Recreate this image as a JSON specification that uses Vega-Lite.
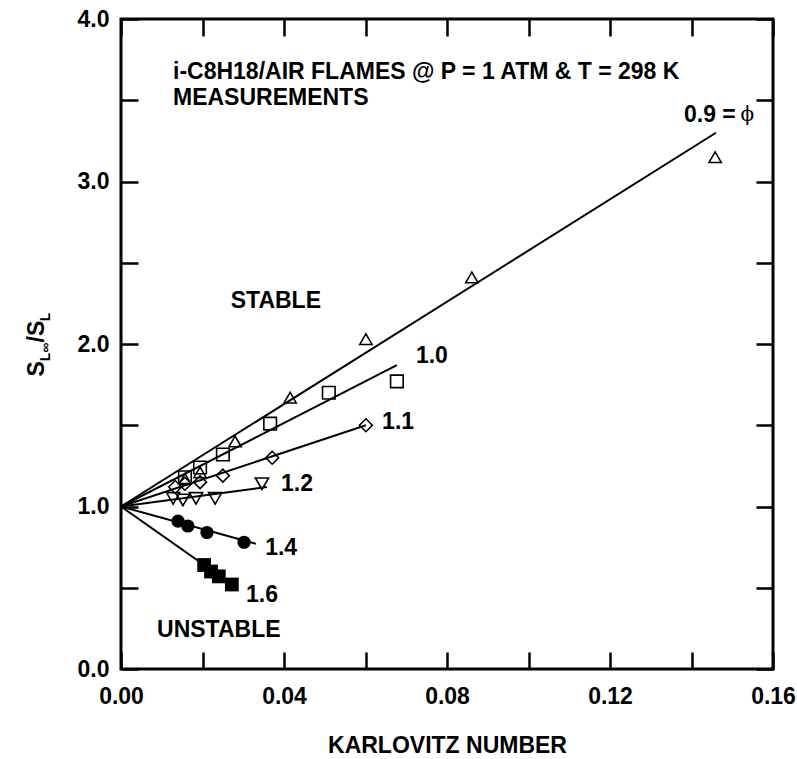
{
  "$schema": "https://vega.github.io/schema/vega-lite/v6.json",
  "width": 652,
  "height": 650,
  "autosize": "none",
  "padding": {"left": 121, "top": 19, "right": 24, "bottom": 90},
  "background": "white",
  "config": {
    "view": {"stroke": "black", "strokeWidth": 3},
    "font": "Liberation Sans",
    "axis": {
      "domain": false,
      "grid": false,
      "ticks": true,
      "tickColor": "black",
      "tickWidth": 2.5,
      "tickSize": -17,
      "labelFont": "Liberation Sans",
      "labelFontSize": 23,
      "labelFontWeight": "bold",
      "labelColor": "black",
      "labelFlush": false,
      "labelBound": false,
      "labelOverlap": false,
      "titleFont": "Liberation Sans",
      "titleFontSize": 23,
      "titleFontWeight": "bold",
      "titleColor": "black"
    }
  },
  "datasets": {
    "lines": [
      {"phi": "0.9", "k": 0, "s": 1.0}, {"phi": "0.9", "k": 0.146, "s": 3.30},
      {"phi": "1.0", "k": 0, "s": 1.0}, {"phi": "1.0", "k": 0.0677, "s": 1.87},
      {"phi": "1.1", "k": 0, "s": 1.0}, {"phi": "1.1", "k": 0.0601, "s": 1.50},
      {"phi": "1.2", "k": 0, "s": 1.0}, {"phi": "1.2", "k": 0.0358, "s": 1.12},
      {"phi": "1.4", "k": 0, "s": 1.0}, {"phi": "1.4", "k": 0.0331, "s": 0.77},
      {"phi": "1.6", "k": 0, "s": 1.0}, {"phi": "1.6", "k": 0.0272, "s": 0.52}
    ],
    "open": [
      {"phi": "0.9", "k": 0.0157, "s": 1.17},
      {"phi": "0.9", "k": 0.0194, "s": 1.21},
      {"phi": "0.9", "k": 0.0280, "s": 1.40},
      {"phi": "0.9", "k": 0.0415, "s": 1.67},
      {"phi": "0.9", "k": 0.0601, "s": 2.03},
      {"phi": "0.9", "k": 0.0861, "s": 2.41},
      {"phi": "0.9", "k": 0.1458, "s": 3.15},
      {"phi": "1.0", "k": 0.0157, "s": 1.18},
      {"phi": "1.0", "k": 0.0194, "s": 1.24},
      {"phi": "1.0", "k": 0.0250, "s": 1.32},
      {"phi": "1.0", "k": 0.0366, "s": 1.51},
      {"phi": "1.0", "k": 0.0510, "s": 1.70},
      {"phi": "1.0", "k": 0.0677, "s": 1.77},
      {"phi": "1.1", "k": 0.0133, "s": 1.12},
      {"phi": "1.1", "k": 0.0157, "s": 1.14},
      {"phi": "1.1", "k": 0.0194, "s": 1.15},
      {"phi": "1.1", "k": 0.0250, "s": 1.19},
      {"phi": "1.1", "k": 0.0371, "s": 1.30},
      {"phi": "1.1", "k": 0.0601, "s": 1.50},
      {"phi": "1.2", "k": 0.0128, "s": 1.05},
      {"phi": "1.2", "k": 0.0152, "s": 1.04},
      {"phi": "1.2", "k": 0.0184, "s": 1.05},
      {"phi": "1.2", "k": 0.0231, "s": 1.05},
      {"phi": "1.2", "k": 0.0346, "s": 1.14}
    ],
    "filled": [
      {"phi": "1.4", "k": 0.0140, "s": 0.91},
      {"phi": "1.4", "k": 0.0164, "s": 0.88},
      {"phi": "1.4", "k": 0.0211, "s": 0.84},
      {"phi": "1.4", "k": 0.0302, "s": 0.78},
      {"phi": "1.6", "k": 0.0204, "s": 0.64},
      {"phi": "1.6", "k": 0.0221, "s": 0.60},
      {"phi": "1.6", "k": 0.0240, "s": 0.57},
      {"phi": "1.6", "k": 0.0272, "s": 0.52}
    ],
    "labels": [
      {"t": "0.9 =", "k": 0.1445, "s": 3.41},
      {"t": "1.0", "k": 0.0763, "s": 1.926},
      {"t": "1.1", "k": 0.0680, "s": 1.52},
      {"t": "1.2", "k": 0.0432, "s": 1.138},
      {"t": "1.4", "k": 0.0393, "s": 0.745},
      {"t": "1.6", "k": 0.0346, "s": 0.455},
      {"t": "UNSTABLE", "k": 0.0240, "s": 0.240},
      {"t": "STABLE", "k": 0.0380, "s": 2.265}
    ],
    "notes": [
      {"t": "i-C8H18/AIR FLAMES @ P = 1 ATM & T = 298 K", "k": 0.01276, "s": 3.674},
      {"t": "MEASUREMENTS", "k": 0.01276, "s": 3.511}
    ],
    "phisym": [{"t": "ϕ", "k": 0.1537, "s": 3.41}],
    "ytitle": [{"k": -0.0189, "s": 1.994}]
  },
  "layer": [
    {
      "data": {"name": "lines"},
      "mark": {"type": "line", "color": "black", "strokeWidth": 2},
      "encoding": {
        "x": {
          "field": "k", "type": "quantitative",
          "scale": {"domain": [0, 0.16], "nice": false, "zero": false},
          "axis": {
            "orient": "bottom",
            "values": [0, 0.02, 0.04, 0.06, 0.08, 0.1, 0.12, 0.14, 0.16],
            "labelExpr": "round(datum.value * 100) % 4 == 0 ? format(datum.value, '.2f') : ''",
            "labelPadding": 33,
            "title": "KARLOVITZ NUMBER",
            "titleBaseline": "middle",
            "titleY": 76
          }
        },
        "y": {
          "field": "s", "type": "quantitative",
          "scale": {"domain": [0, 4], "nice": false, "zero": false},
          "axis": {
            "orient": "left",
            "values": [0, 0.5, 1, 1.5, 2, 2.5, 3, 3.5, 4],
            "labelExpr": "round(datum.value * 10) % 10 == 0 ? format(datum.value, '.1f') : ''",
            "labelPadding": 29,
            "title": null
          }
        },
        "detail": {"field": "phi", "type": "nominal"}
      }
    },
    {
      "data": {"name": "open"},
      "mark": {"type": "point", "filled": false, "stroke": "black", "strokeWidth": 1.6, "opacity": 1},
      "encoding": {
        "x": {
          "field": "k", "type": "quantitative",
          "axis": {
            "orient": "top",
            "values": [0, 0.02, 0.04, 0.06, 0.08, 0.1, 0.12, 0.14, 0.16],
            "labels": false,
            "title": null
          }
        },
        "y": {
          "field": "s", "type": "quantitative",
          "axis": {
            "orient": "right",
            "values": [0, 0.5, 1, 1.5, 2, 2.5, 3, 3.5, 4],
            "labels": false,
            "title": null
          }
        },
        "shape": {
          "field": "phi", "type": "nominal",
          "scale": {"domain": ["0.9", "1.0", "1.1", "1.2"], "range": ["triangle-up", "square", "diamond", "triangle-down"]},
          "legend": null
        },
        "size": {
          "field": "phi", "type": "ordinal",
          "scale": {"domain": ["0.9", "1.0", "1.1", "1.2"], "range": [150, 175, 120, 150]},
          "legend": null
        }
      }
    },
    {
      "data": {"name": "filled"},
      "mark": {"type": "point", "filled": true, "color": "black", "opacity": 1},
      "encoding": {
        "x": {"field": "k", "type": "quantitative", "axis": null},
        "y": {"field": "s", "type": "quantitative", "axis": null},
        "shape": {
          "field": "phi", "type": "nominal",
          "scale": {"domain": ["1.4", "1.6"], "range": ["circle", "square"]},
          "legend": null
        },
        "size": {
          "field": "phi", "type": "ordinal",
          "scale": {"domain": ["1.4", "1.6"], "range": [175, 190]},
          "legend": null
        }
      }
    },
    {
      "data": {"name": "labels"},
      "mark": {"type": "text", "font": "Liberation Sans", "fontSize": 23, "fontWeight": "bold", "color": "black", "align": "center", "baseline": "middle"},
      "encoding": {
        "x": {"field": "k", "type": "quantitative", "axis": null},
        "y": {"field": "s", "type": "quantitative", "axis": null},
        "text": {"field": "t"}
      }
    },
    {
      "data": {"name": "notes"},
      "mark": {"type": "text", "font": "Liberation Sans", "fontSize": 23, "fontWeight": "bold", "color": "black", "align": "left", "baseline": "middle"},
      "encoding": {
        "x": {"field": "k", "type": "quantitative", "axis": null},
        "y": {"field": "s", "type": "quantitative", "axis": null},
        "text": {"field": "t"}
      }
    },
    {
      "data": {"name": "phisym"},
      "mark": {"type": "text", "font": "DejaVu Serif", "fontSize": 20, "fontWeight": "normal", "color": "black", "align": "center", "baseline": "middle"},
      "encoding": {
        "x": {"field": "k", "type": "quantitative", "axis": null},
        "y": {"field": "s", "type": "quantitative", "axis": null},
        "text": {"field": "t"}
      }
    },
    {
      "data": {"name": "ytitle"},
      "mark": {"type": "text", "font": "Liberation Sans", "fontSize": 23, "fontWeight": "bold", "color": "black", "align": "left", "baseline": "alphabetic", "angle": 270, "dx": -31.4},
      "encoding": {
        "x": {"field": "k", "type": "quantitative", "axis": null},
        "y": {"field": "s", "type": "quantitative", "axis": null},
        "text": {"value": "S"}
      }
    },
    {
      "data": {"name": "ytitle"},
      "mark": {"type": "text", "font": "Liberation Sans", "fontSize": 14, "fontWeight": "bold", "color": "black", "align": "left", "baseline": "alphabetic", "angle": 270, "dx": -16.2, "dy": 6},
      "encoding": {
        "x": {"field": "k", "type": "quantitative", "axis": null},
        "y": {"field": "s", "type": "quantitative", "axis": null},
        "text": {"value": "L∞"}
      }
    },
    {
      "data": {"name": "ytitle"},
      "mark": {"type": "text", "font": "Liberation Sans", "fontSize": 23, "fontWeight": "bold", "color": "black", "align": "left", "baseline": "alphabetic", "angle": 270, "dx": 2.6},
      "encoding": {
        "x": {"field": "k", "type": "quantitative", "axis": null},
        "y": {"field": "s", "type": "quantitative", "axis": null},
        "text": {"value": "/S"}
      }
    },
    {
      "data": {"name": "ytitle"},
      "mark": {"type": "text", "font": "Liberation Sans", "fontSize": 14, "fontWeight": "bold", "color": "black", "align": "left", "baseline": "alphabetic", "angle": 270, "dx": 23.7, "dy": 6},
      "encoding": {
        "x": {"field": "k", "type": "quantitative", "axis": null},
        "y": {"field": "s", "type": "quantitative", "axis": null},
        "text": {"value": "L"}
      }
    }
  ],
  "resolve": {
    "axis": {"x": "independent", "y": "independent"},
    "scale": {"shape": "independent", "size": "independent"}
  }
}
